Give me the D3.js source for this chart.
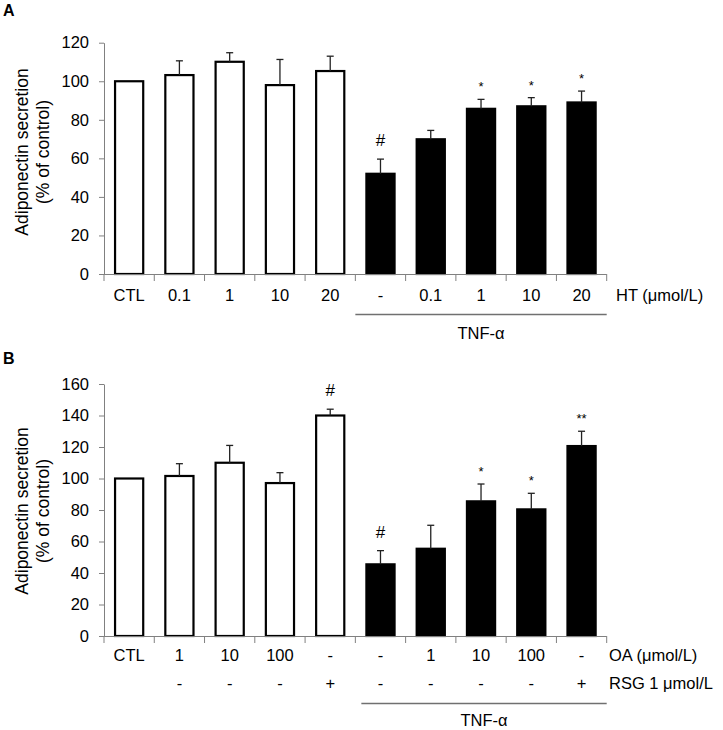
<!DOCTYPE html>
<html><head><meta charset="utf-8">
<script src="https://cdn.jsdelivr.net/npm/d3@7"></script>
<style>body{margin:0;background:#fff}svg{display:block;font-family:Arial,"Liberation Sans",sans-serif}</style>
</head><body>
<svg id="c" width="723" height="730"></svg>
<script>
// Panel A data
const catsA = ["CTL","0.1","1","10","20","-","0.1","1","10","20"];
const valsA = [100,103.2,110.1,98,105.3,52,69.9,85.7,87,89];
const errA  = [0,7.4,4.7,13.3,7.7,7.6,4.6,4.9,4.5,5.9];
const tnfA  = [0,0,0,0,0,1,1,1,1,1];
const markA = ["","","","","","#","","*","*","*"];
const ticksA = [0,20,40,60,80,100,120];

// Panel B data
const catsB = ["CTL","1","10","100","-","-","1","10","100","-"];
const rsgB  = ["","-","-","-","+","-","-","-","-","+"];
const valsB = [100,101.6,110,97.1,140,45.5,55.4,85.5,80.4,120.6];
const errB  = [0,7.8,11,6.6,4,8.7,14.9,11,10.2,9.4];
const tnfB  = [0,0,0,0,0,1,1,1,1,1];
const markB = ["","","","","#","#","","*","*","**"];
const ticksB = [0,20,40,60,80,100,120,140,160];

const svg = d3.select("#c");
const FONT = 16.5;

function panel(opt){
  const g = svg.append("g");
  const x = d3.scaleBand().domain(d3.range(opt.cats.length)).range([104,606.7]).paddingInner(0.4).paddingOuter(0.2);
  const y = d3.scaleLinear().domain([0,opt.max]).range([opt.y0,opt.y1]);
  const step = x.step(), half = (step - x.bandwidth())/2;

  // panel letter
  g.append("text").attr("x",3).attr("y",opt.letterY).attr("font-size",16).attr("font-weight","bold").text(opt.letter);

  // y axis
  const ya = g.append("g").attr("transform","translate(104,0)")
    .call(d3.axisLeft(y).tickValues(opt.ticks).tickSize(5).tickPadding(10).tickSizeOuter(0));
  ya.select(".domain").attr("stroke","#808080");
  ya.selectAll(".tick line").attr("stroke","#808080");
  ya.selectAll(".tick text").attr("font-size",FONT).attr("fill","#000").attr("font-family",'Arial,"Liberation Sans",sans-serif');

  // y title
  const t = g.append("text").attr("transform",`translate(27.5,${opt.titleY}) rotate(-90)`).attr("text-anchor","middle").attr("font-size",17.5);
  t.append("tspan").attr("x",0).attr("dy",0).text("Adiponectin secretion");
  t.append("tspan").attr("x",0).attr("dy",21.5).text("(% of control)");

  // bars
  const idx = d3.range(opt.cats.length);
  g.selectAll("rect.bar").data(idx).join("rect")
    .attr("x",i=>x(i)+1).attr("width",x.bandwidth()-2)
    .attr("y",i=>y(opt.vals[i])).attr("height",i=>y(0)-y(opt.vals[i]))
    .attr("fill",i=>opt.tnf[i]?"#000":"#fff").attr("stroke","#000").attr("stroke-width",2.2);

  // error bars
  const eb = g.selectAll("g.eb").data(idx.filter(i=>opt.err[i]>0)).join("g");
  eb.append("line").attr("x1",i=>x(i)+x.bandwidth()/2).attr("x2",i=>x(i)+x.bandwidth()/2)
    .attr("y1",i=>y(opt.vals[i])).attr("y2",i=>y(opt.vals[i]+opt.err[i])).attr("stroke","#222").attr("stroke-width",1.3);
  eb.append("line").attr("x1",i=>x(i)+x.bandwidth()/2-3.5).attr("x2",i=>x(i)+x.bandwidth()/2+3.5)
    .attr("y1",i=>y(opt.vals[i]+opt.err[i])).attr("y2",i=>y(opt.vals[i]+opt.err[i])).attr("stroke","#222").attr("stroke-width",1.3);

  // significance marks
  g.selectAll("text.mk").data(idx.filter(i=>opt.marks[i])).join("text")
    .attr("x",i=>x(i)+x.bandwidth()/2).attr("text-anchor","middle")
    .attr("y",i=>y(opt.vals[i]+opt.err[i]) - (opt.marks[i]==="#"?13:8))
    .attr("font-size",i=>opt.marks[i]==="#"?17:13).text(i=>opt.marks[i]);

  // x axis line and ticks
  const xr = x.range();
  g.append("line").attr("x1",xr[0]).attr("x2",xr[1]).attr("y1",y(0)+0.5).attr("y2",y(0)+0.5).attr("stroke","#808080");
  const tickPos = idx.map(i=>x(i)-half).concat([xr[1]]);
  g.selectAll("line.xt").data(tickPos).join("line")
    .attr("x1",d=>d).attr("x2",d=>d).attr("y1",y(0)).attr("y2",y(0)+7).attr("stroke","#808080");

  // category labels
  g.selectAll("text.cat").data(idx).join("text")
    .attr("x",i=>x(i)+x.bandwidth()/2).attr("y",opt.row1).attr("text-anchor","middle").attr("font-size",FONT)
    .text(i=>opt.cats[i]);
  g.append("text").attr("x",opt.unitX).attr("y",opt.row1).attr("font-size",FONT).text(opt.unit);

  if(opt.row2){
    g.selectAll("text.r2").data(idx).join("text")
      .attr("x",i=>x(i)+x.bandwidth()/2).attr("y",opt.row2).attr("text-anchor","middle").attr("font-size",FONT)
      .text(i=>opt.rsg[i]);
    g.append("text").attr("x",opt.unitX).attr("y",opt.row2).attr("font-size",FONT).text(opt.unit2);
  }

  // TNF bracket
  const first = opt.tnf.indexOf(1);
  const lx0 = x(first)-half + opt.lineInset, lx1 = xr[1];
  g.append("line").attr("x1",lx0).attr("x2",lx1).attr("y1",opt.lineY).attr("y2",opt.lineY).attr("stroke","#707070").attr("stroke-width",1.5);
  g.append("text").attr("x",(lx0+lx1)/2).attr("y",opt.tnfY).attr("text-anchor","middle").attr("font-size",FONT).text("TNF-α");
}

panel({letter:"A",letterY:16,cats:catsA,vals:valsA,err:errA,tnf:tnfA,marks:markA,ticks:ticksA,max:120,
  y0:274,y1:42.7,titleY:152,row1:301,unit:"HT (μmol/L)",unitX:616,lineY:314.5,lineInset:0,tnfY:339});
panel({letter:"B",letterY:364,cats:catsB,vals:valsB,err:errB,tnf:tnfB,marks:markB,ticks:ticksB,max:160,
  y0:636,y1:384,titleY:511,row1:661,row2:688.5,rsg:rsgB,unit:"OA (μmol/L)",unit2:"RSG 1 μmol/L",unitX:609,lineY:703.5,lineInset:6,tnfY:726});
</script>
</body></html>
